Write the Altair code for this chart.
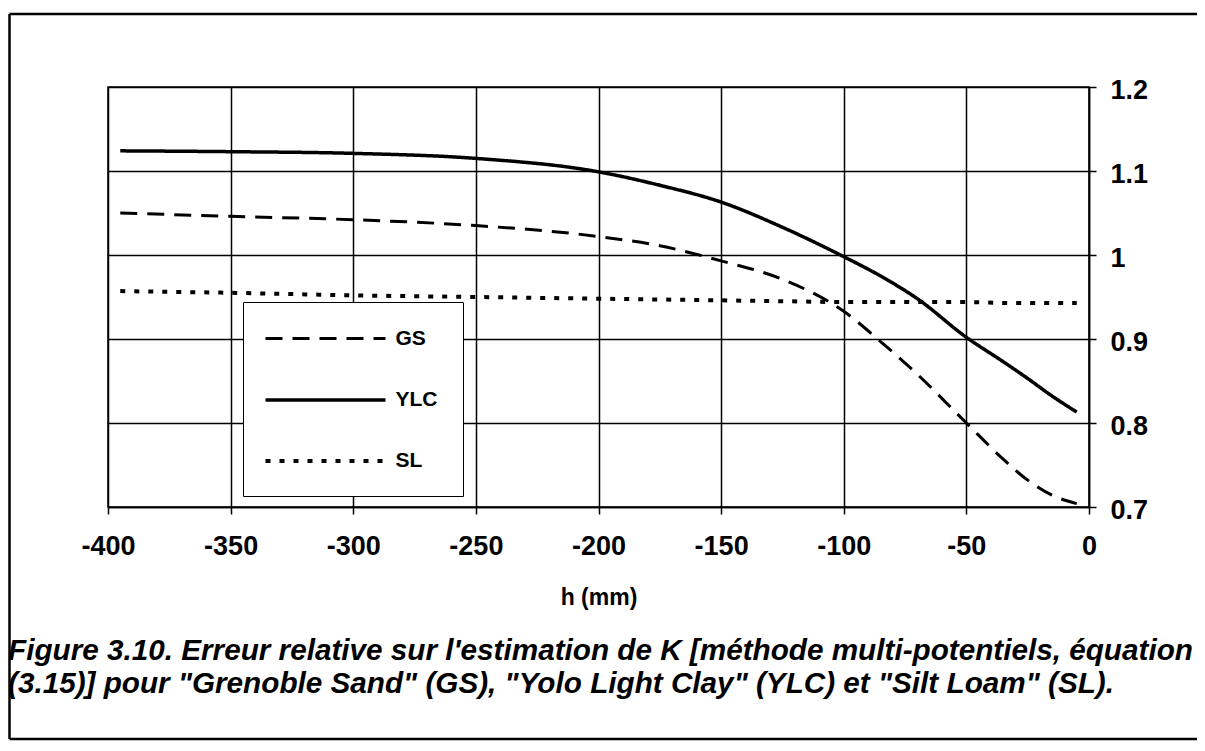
import altair as alt
import pandas as pd

# ---- data ----
h_mm = [-395, -350, -300, -250, -200, -175, -150, -125, -100, -85, -70, -50, -35, -25, -15, -5]
gs = [1.050, 1.046, 1.042, 1.035, 1.022, 1.011, 0.993, 0.971, 0.933, 0.897, 0.858, 0.800, 0.757, 0.732, 0.714, 0.704]
ylc = [1.124, 1.123, 1.121, 1.115, 1.099, 1.083, 1.063, 1.033, 0.998, 0.975, 0.948, 0.902, 0.873, 0.853, 0.832, 0.813]
sl = [0.957, 0.955, 0.952, 0.950, 0.948, 0.947, 0.946, 0.945, 0.944, 0.944, 0.944, 0.944, 0.943, 0.943, 0.943, 0.943]
series = ["GS", "YLC", "SL"]
x_ticks = [-400, -350, -300, -250, -200, -150, -100, -50, 0]
y_ticks = [0.7, 0.8, 0.9, 1.0, 1.1, 1.2]
x_title = "h (mm)"
caption = [
    "Figure 3.10. Erreur relative sur l'estimation de K [méthode multi-potentiels, équation",
    "(3.15)] pour \"Grenoble Sand\" (GS), \"Yolo Light Clay\" (YLC) et \"Silt Loam\" (SL).",
]

rows = []
for name, vals in zip(series, [gs, ylc, sl]):
    for x, v in zip(h_mm, vals):
        rows.append({"h": x, "value": v, "series": name})
df = pd.DataFrame(rows)

FONT = "Liberation Sans"
one = alt.Data(values=[{"f": 1}])

# page frame (top, left and bottom edges; the right edge lies off the page)
frame_top = alt.Chart(one).mark_rule(color="black", strokeWidth=2.5).encode(
    x=alt.value(-98.5), x2=alt.value(1120), y=alt.value(-73)
)
frame_left = alt.Chart(one).mark_rule(color="black", strokeWidth=2.5).encode(
    x=alt.value(-98.5), y=alt.value(-73), y2=alt.value(652)
)
frame_bottom = alt.Chart(one).mark_rule(color="black", strokeWidth=2.5).encode(
    x=alt.value(-98.5), x2=alt.value(1120), y=alt.value(652)
)

cap = alt.Chart(alt.Data(values=[{"caption": "\n".join(caption)}])).mark_text(
    align="left", baseline="top", lineBreak="\n", lineHeight=33,
    font=FONT, fontSize=29.7, fontStyle="italic", fontWeight="bold", color="black",
).encode(
    text="caption:N", x=alt.value(-100), y=alt.value(550)
)

lines = alt.Chart(df).mark_line(interpolate="monotone", color="black", strokeCap="butt").encode(
    x=alt.X(
        "h:Q",
        scale=alt.Scale(domain=[-400, 0], nice=False, zero=False),
        axis=alt.Axis(
            values=x_ticks, labelExpr="datum.value + ''", title=x_title,
            labelFont=FONT, labelFontSize=27, labelFontWeight="bold", labelColor="black",
            labelPadding=19, labelFlush=False, labelOverlap=False,
            tickColor="black", tickSize=7, tickWidth=1.5,
            domainColor="black", domainWidth=1.5,
            grid=True, gridColor="black", gridWidth=1.5, gridOpacity=1,
            titleFont=FONT, titleFontSize=23, titleFontWeight="bold", titleColor="black",
            titlePadding=27,
        ),
    ),
    y=alt.Y(
        "value:Q",
        scale=alt.Scale(domain=[0.7, 1.2], nice=False, zero=False),
        axis=alt.Axis(
            orient="right", values=y_ticks, format="~g", title=None,
            labelFont=FONT, labelFontSize=27, labelFontWeight="bold", labelColor="black",
            labelPadding=14, labelOffset=3, labelOverlap=False,
            tickColor="black", tickSize=7, tickWidth=1.5,
            domainColor="black", domainWidth=1.5,
            grid=True, gridColor="black", gridWidth=1.5, gridOpacity=1,
        ),
    ),
    strokeDash=alt.StrokeDash(
        "series:N",
        scale=alt.Scale(domain=series, range=[[17, 10], [1, 0], [5, 9]]),
        legend=alt.Legend(
            title=None, orient="none", legendX=135, legendY=215,
            padding=25, fillColor="white", strokeColor="black",
            symbolType="M-6,0H6", symbolSize=400, symbolOffset=45.5,
            symbolStrokeWidth=3, symbolStrokeColor="black",
            labelOffset=58, labelFont=FONT, labelFontSize=21, labelFontWeight="bold",
            labelColor="black", rowPadding=39,
        ),
    ),
    strokeWidth=alt.StrokeWidth(
        "series:N", scale=alt.Scale(domain=series, range=[3, 4, 3.2]), legend=None
    ),
)

chart = alt.layer(frame_top, frame_left, frame_bottom, lines, cap).properties(
    width=981,
    height=420,
    padding={"left": 100, "top": 79, "right": 108, "bottom": 236},
    autosize=alt.AutoSizeParams(type="none"),
    background="white",
).configure_view(stroke="black", strokeWidth=1.5)

chart.save("out.html", embed_options={"renderer": "svg", "actions": False})
